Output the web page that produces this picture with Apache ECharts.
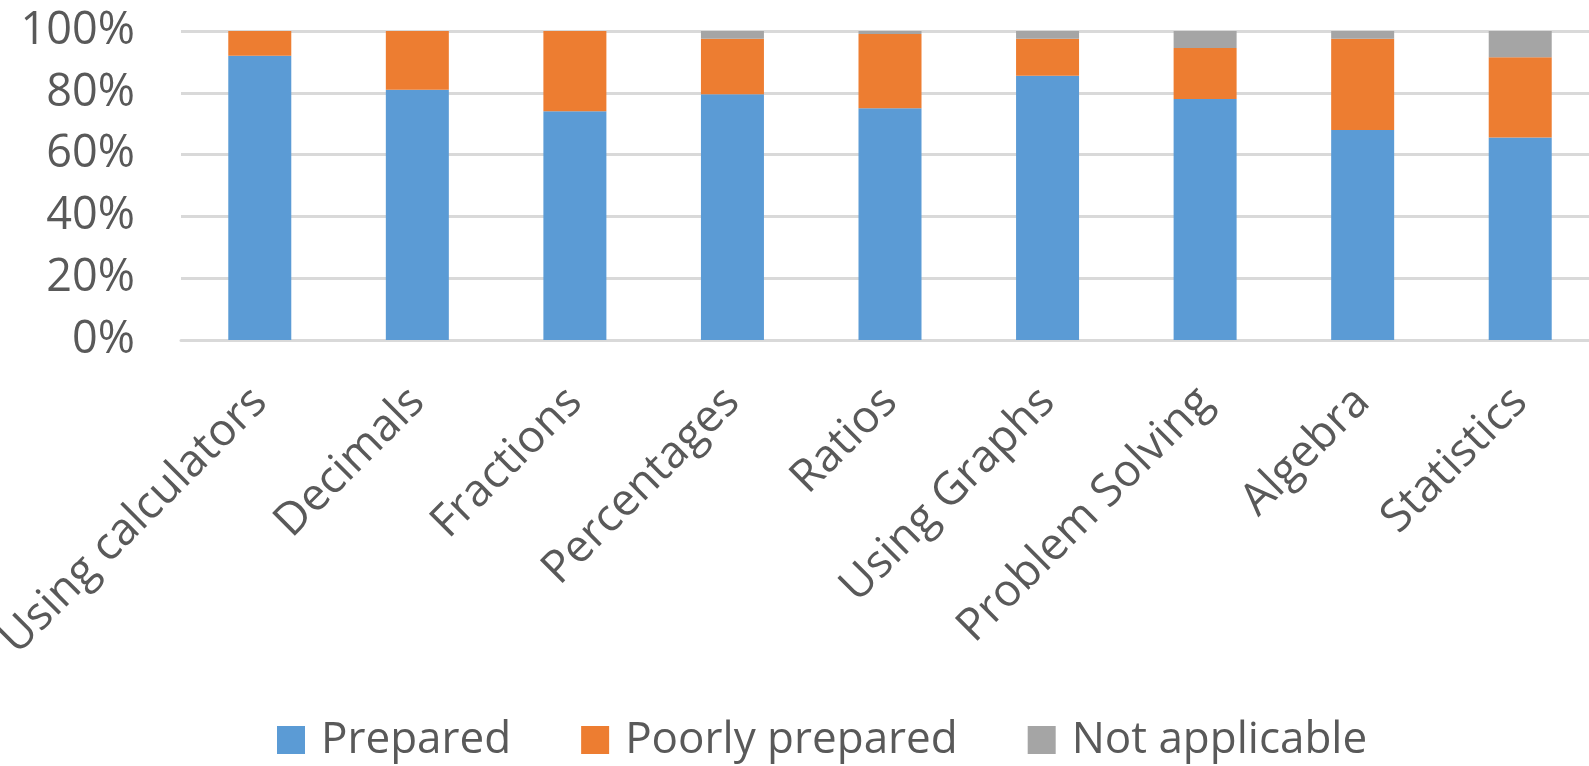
<!DOCTYPE html>
<html>
<head>
<meta charset="utf-8">
<script src="https://cdn.jsdelivr.net/npm/echarts@6/dist/echarts.min.js"></script>
<style>
html,body{margin:0;padding:0;background:#fff;}
#chart{width:1589px;height:766px;}
</style>
</head>
<body>
<div id="chart"></div>
<script>
var categories = ['Using calculators','Decimals','Fractions','Percentages','Ratios','Using Graphs','Problem Solving','Algebra','Statistics'];
var prepared = [92, 81, 74, 79.5, 75, 85.5, 78, 68, 65.5];
var poorlyPrepared = [8, 19, 26, 18, 24, 12, 16.5, 29.5, 26];
var notApplicable = [0, 0, 0, 2.5, 1, 2.5, 5.5, 2.5, 8.5];
var yTicks = [0, 20, 40, 60, 80, 100];

var FONT = 'Open Sans';
var TXT = '#595959';
var chart = echarts.init(document.getElementById('chart'), null, {renderer:'canvas'});
chart.setOption({
  animation: false,
  backgroundColor: '#ffffff',
  grid: {left: 181, top: 31, width: 1418, height: 309, containLabel: false, outerBoundsMode: 'none'},
  legend: {
    left: 272, top: 713,
    itemWidth: 28, itemHeight: 28, itemGap: 70,
    icon: 'rect',
    textStyle: {fontFamily: FONT, fontSize: 44, color: TXT, padding: [0,0,0,11]},
    data: ['Prepared','Poorly prepared','Not applicable']
  },
  xAxis: {
    type: 'category',
    data: categories,
    axisLine: {show: true, lineStyle: {color: '#d9d9d9', width: 3}},
    axisTick: {show: false},
    axisLabel: {rotate: 45, margin: 55, interval: 0, fontFamily: FONT, fontSize: 45, color: TXT}
  },
  yAxis: {
    type: 'value',
    min: yTicks[0], max: yTicks[yTicks.length-1], interval: 20,
    axisLine: {show: false},
    axisTick: {show: false},
    splitLine: {lineStyle: {color: '#d9d9d9', width: 3}},
    axisLabel: {margin: 46, fontFamily: FONT, fontSize: 45, color: TXT, formatter: '{value}%'}
  },
  series: [
    {name: 'Prepared', type: 'bar', stack: 'a', data: prepared, barWidth: 63, itemStyle: {color: '#5B9BD5'}},
    {name: 'Poorly prepared', type: 'bar', stack: 'a', data: poorlyPrepared, barWidth: 63, itemStyle: {color: '#ED7D31'}},
    {name: 'Not applicable', type: 'bar', stack: 'a', data: notApplicable, barWidth: 63, itemStyle: {color: '#A5A5A5'}}
  ]
});
</script>
</body>
</html>
